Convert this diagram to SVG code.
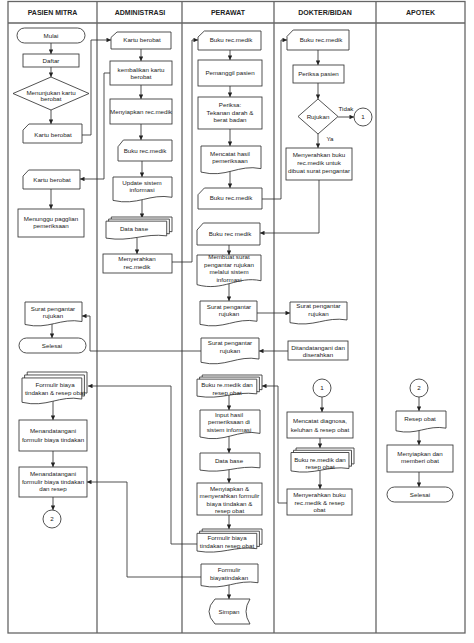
<svg xmlns="http://www.w3.org/2000/svg" width="474" height="643" viewBox="0 0 474 643">
<style>
.lane{fill:none;stroke:#666;stroke-width:1.3}
.n{fill:#fff;stroke:#333;stroke-width:0.85}
.t{font-family:"Liberation Sans",Arial,sans-serif;font-size:6.2px;fill:#222;text-anchor:middle}
.h{font-family:"Liberation Sans",Arial,sans-serif;font-size:7px;font-weight:bold;fill:#222;text-anchor:middle}
.c{fill:none;stroke:#333;stroke-width:0.85;marker-end:url(#ah)}
</style>
<defs>
<marker id="ah" viewBox="0 0 10 10" refX="10" refY="5" markerWidth="5.5" markerHeight="4.5" markerUnits="userSpaceOnUse" orient="auto"><path d="M0,0 L10,5 L0,10 Z" fill="#222"/></marker>
<symbol id="mi" viewBox="0 0 100 100" preserveAspectRatio="none" overflow="visible"><path d="M0,32 L10,0 H100 V100 H0 Z" vector-effect="non-scaling-stroke"/></symbol>
<symbol id="doc" viewBox="0 0 100 100" preserveAspectRatio="none" overflow="visible"><path d="M0,0 H100 V78 C62,62 42,112 0,90 Z" vector-effect="non-scaling-stroke"/></symbol>
<symbol id="md" viewBox="0 0 100 100" preserveAspectRatio="none" overflow="visible"><path d="M8,0 H100 V64 C65,50.8 46.6,91.8 8,73.8 Z" vector-effect="non-scaling-stroke"/><path d="M4,9 H96 V73 C61,59.8 42.6,100.8 4,82.8 Z" vector-effect="non-scaling-stroke"/><path d="M0,18 H92 V82 C57,68.8 38.6,109.8 0,91.8 Z" vector-effect="non-scaling-stroke"/></symbol>
</defs>
<rect width="474" height="643" fill="#fff"/>
<g id="lanes">
<rect class="lane" x="8" y="1.5" width="457" height="631.5"/>
<path class="lane" d="M8,23 H465 M97,1.5 V633 M182,1.5 V633 M274,1.5 V633 M376,1.5 V633"/>
<text class="h" x="52.5" y="14.8">PASIEN MITRA</text>
<text class="h" x="140" y="14.8">ADMINISTRASI</text>
<text class="h" x="228" y="14.8">PERAWAT</text>
<text class="h" x="325" y="14.8">DOKTER/BIDAN</text>
<text class="h" x="420.5" y="14.8">APOTEK</text>
</g>
<g id="connectors">
<path class="c" d="M51,43 V54"/>
<path class="c" d="M51,67 V77"/>
<path class="c" d="M51,110 V124"/>
<path class="c" d="M82,135 H91 V40 H111"/>
<path class="c" d="M141,49 V61"/>
<path class="c" d="M141,85 V99"/>
<path class="c" d="M141,124 V140"/>
<path class="c" d="M110,73 H104 V179 H80"/>
<path class="c" d="M51,189 V209"/>
<path class="c" d="M142,161 V177"/>
<path class="c" d="M142,200 V218"/>
<path class="c" d="M137,237 V254"/>
<path class="c" d="M172,262 H192 V40 H198"/>
<path class="c" d="M230,50 V60"/>
<path class="c" d="M230,86 V97"/>
<path class="c" d="M230,129 V146"/>
<path class="c" d="M230,171 V188"/>
<path class="c" d="M262,199 H281 V40 H287"/>
<path class="c" d="M318,50 V65"/>
<path class="c" d="M318,83 V99"/>
<path class="c" d="M338,117 H354"/>
<path class="c" d="M318,134 V148"/>
<path class="c" d="M319,180 V233 H260"/>
<path class="c" d="M229,245 V255"/>
<path class="c" d="M229,283 V301"/>
<path class="c" d="M257,313 H290"/>
<path class="c" d="M288,351 H259"/>
<path class="c" d="M201,351 H90 V316 H82"/>
<path class="c" d="M52,324 V338"/>
<path class="c" d="M53,401 V420"/>
<path class="c" d="M53,451 V467"/>
<path class="c" d="M53,497 V510"/>
<path class="c" d="M197,544 H171 V386 H88"/>
<path class="c" d="M201,577 H127 V482 H87"/>
<path class="c" d="M287,503 H278 V386 H262"/>
<path class="c" d="M229,395 V410"/>
<path class="c" d="M229,436 V453"/>
<path class="c" d="M229,469.5 V483"/>
<path class="c" d="M229,515 V529"/>
<path class="c" d="M229,585 V599"/>
<path class="c" d="M322,397 V412"/>
<path class="c" d="M320,438 V448"/>
<path class="c" d="M320,470 V489"/>
<path class="c" d="M419,397 V411"/>
<path class="c" d="M419,430 V445"/>
<path class="c" d="M419,472 V487"/>
</g>
<g id="n-mulai"><rect class="n" x="17" y="28" width="68" height="15" rx="7.5"/><text class="t" x="51" y="37.7">Mulai</text></g>
<g id="n-daftar"><rect class="n" x="23" y="54" width="56" height="13"/><text class="t" x="51" y="62.7">Daftar</text></g>
<g id="n-menunjukan"><path class="n" d="M13,93.5 L51,77 L89,93.5 L51,110 Z"/><text class="t"><tspan x="51" y="94.6">Menunjukan kartu</tspan><tspan x="51" y="101.3">berobat</tspan></text></g>
<g id="n-kartu1"><use href="#mi" class="n" x="23" y="124" width="59" height="19"/><text class="t" x="53" y="137.2">Kartu berobat</text></g>
<g id="n-kartu2"><use href="#mi" class="n" x="23" y="170" width="57" height="19"/><text class="t" x="52" y="181.5">Kartu berobat</text></g>
<g id="n-menunggu"><rect class="n" x="18" y="209" width="66" height="28"/><text class="t"><tspan x="51" y="220.5">Menunggu pagglian</tspan><tspan x="51" y="228.2">pemeriksaan</tspan></text></g>
<g id="n-surat-pasien"><use href="#doc" class="n" x="25" y="302" width="57" height="25"/><text class="t"><tspan x="53" y="310.5">Surat pengantar</tspan><tspan x="53" y="318.2">rujukan</tspan></text></g>
<g id="n-selesai1"><rect class="n" x="19" y="338" width="67" height="15" rx="7.5"/><text class="t" x="52" y="348.2">Selesai</text></g>
<g id="n-formulir-pasien"><use href="#md" class="n" x="22" y="372" width="65" height="33"/><text class="t"><tspan x="55" y="387.2">Formulir biaya</tspan><tspan x="55" y="395.2">tindakan &amp; resep obat</tspan></text></g>
<g id="n-tanda1"><rect class="n" x="19" y="420" width="68" height="31"/><text class="t"><tspan x="53" y="433.2">Menandatangani</tspan><tspan x="53" y="441.5">formulir biaya tindakan</tspan></text></g>
<g id="n-tanda2"><rect class="n" x="19" y="467" width="68" height="30"/><text class="t"><tspan x="53" y="476.2">Menandatangani</tspan><tspan x="53" y="483.9">formulir biaya tindakan</tspan><tspan x="53" y="491.4">dan resep</tspan></text></g>
<g id="n-c2a"><circle class="n" cx="52" cy="519" r="9"/><text class="t" x="52" y="521.2">2</text></g>
<g id="n-kartu-adm"><use href="#mi" class="n" x="111" y="32" width="60" height="17"/><text class="t" x="142" y="41.5">Kartu berobat</text></g>
<g id="n-kembalikan"><rect class="n" x="110" y="61" width="62" height="24"/><text class="t"><tspan x="141" y="72.2">kembalikan kartu</tspan><tspan x="141" y="79.2">berobat</tspan></text></g>
<g id="n-menyiapkan-adm"><rect class="n" x="110" y="99" width="62" height="25"/><text class="t" x="141" y="113.9">Menyiapkan rec.medik</text></g>
<g id="n-buku-adm"><use href="#mi" class="n" x="118" y="140" width="54" height="21"/><text class="t" x="145" y="152.9">Buku rec.medik</text></g>
<g id="n-update"><use href="#doc" class="n" x="113" y="177" width="59" height="26"/><text class="t"><tspan x="142" y="184.5">Update sistem</tspan><tspan x="142" y="191.5">informasi</tspan></text></g>
<g id="n-database-adm"><use href="#md" class="n" x="106" y="217" width="66" height="23"/><text class="t" x="134" y="230.5">Data base</text></g>
<g id="n-menyerahkan-adm"><rect class="n" x="103" y="254" width="69" height="19"/><text class="t"><tspan x="137" y="261.2">Menyerahkan</tspan><tspan x="137" y="268.9">rec.medik</tspan></text></g>
<g id="n-buku-p1"><use href="#mi" class="n" x="198" y="31" width="63" height="19"/><text class="t" x="231" y="42.2">Buku rec.medik</text></g>
<g id="n-pemanggil"><rect class="n" x="198" y="60" width="64" height="26"/><text class="t" x="230" y="74.5">Pemanggil pasien</text></g>
<g id="n-periksa-p"><rect class="n" x="198" y="97" width="64" height="32"/><text class="t"><tspan x="230" y="106.5">Periksa:</tspan><tspan x="230" y="114.5">Tekanan darah &amp;</tspan><tspan x="230" y="122.2">berat badan</tspan></text></g>
<g id="n-mencatat-p"><use href="#doc" class="n" x="201" y="146" width="60" height="29"/><text class="t"><tspan x="230" y="155.5">Mencatat hasil</tspan><tspan x="230" y="163.2">pemeriksaan</tspan></text></g>
<g id="n-buku-p2"><use href="#mi" class="n" x="198" y="188" width="64" height="21"/><text class="t" x="231" y="199.9">Buku rec.medik</text></g>
<g id="n-buku-p3"><use href="#mi" class="n" x="197" y="223" width="63" height="22"/><text class="t" x="230" y="235.5">Buku rec medik</text></g>
<g id="n-membuat"><use href="#doc" class="n" x="197" y="255" width="64" height="33"/><text class="t"><tspan x="229" y="259.2">Membuat surat</tspan><tspan x="229" y="266.5">pengantar rujukan</tspan><tspan x="229" y="273.9">melalui sistem</tspan><tspan x="229" y="281.5">informasi</tspan></text></g>
<g id="n-surat-p1"><use href="#doc" class="n" x="200" y="301" width="57" height="26"/><text class="t"><tspan x="229" y="308.9">Surat pengantar</tspan><tspan x="229" y="316.2">rujukan</tspan></text></g>
<g id="n-surat-p2"><use href="#doc" class="n" x="201" y="338" width="58" height="27"/><text class="t"><tspan x="230" y="344.9">Surat pengantar</tspan><tspan x="230" y="353.2">rujukan</tspan></text></g>
<g id="n-buku-rm"><use href="#md" class="n" x="197" y="375" width="65" height="23"/><text class="t"><tspan x="227" y="387.2">Buku re.medik dan</tspan><tspan x="227" y="394.9">resep obat</tspan></text></g>
<g id="n-input"><use href="#doc" class="n" x="200" y="410" width="60" height="30"/><text class="t"><tspan x="229" y="416.5">Input hasil</tspan><tspan x="229" y="424.2">pemeriksaan di</tspan><tspan x="229" y="431.5">sistem informasi</tspan></text></g>
<g id="n-database-p"><use href="#doc" class="n" x="200" y="453" width="60" height="19"/><text class="t" x="229" y="463.2">Data base</text></g>
<g id="n-menyiapkan-p"><rect class="n" x="197" y="483" width="65" height="32"/><text class="t"><tspan x="229.5" y="490.5">Menyiapkan &amp;</tspan><tspan x="229.5" y="498.2">menyerahkan formulir</tspan><tspan x="229.5" y="505.5">biaya tindakan &amp;</tspan><tspan x="229.5" y="513.2">resep obat</tspan></text></g>
<g id="n-formulir-pm"><use href="#md" class="n" x="197" y="529" width="65" height="24"/><text class="t"><tspan x="227" y="539.9">Formulir biaya</tspan><tspan x="227" y="548.2">tindakan resep obat</tspan></text></g>
<g id="n-formulir-bt"><use href="#doc" class="n" x="201" y="564" width="57" height="24"/><text class="t"><tspan x="229" y="572.2">Formulir</tspan><tspan x="229" y="579.9">biayatindakan</tspan></text></g>
<g id="n-simpan"><path class="n" d="M215,599 H250 Q242,611.5 250,624 H215 Q203,611.5 215,599 Z"/><text class="t" x="229" y="613.9">Simpan</text></g>
<g id="n-buku-d"><use href="#mi" class="n" x="287" y="30" width="62" height="20"/><text class="t" x="321" y="42.2">Buku rec.medik</text></g>
<g id="n-periksa-d"><rect class="n" x="293" y="65" width="51" height="18"/><text class="t" x="318.5" y="76.2">Periksa pasien</text></g>
<g id="n-rujukan"><path class="n" d="M298,116.5 L318,99 L338,116.5 L318,134 Z"/><text class="t" x="318" y="118.9">Rujukan</text></g>
<g id="n-c1a"><circle class="n" cx="363" cy="117" r="9"/><text class="t" x="363" y="119.2">1</text></g>
<g id="n-menyerahkan-d"><rect class="n" x="286" y="148" width="66" height="32"/><text class="t"><tspan x="319" y="157.2">Menyerahkan buku</tspan><tspan x="319" y="164.9">rec.medik untuk</tspan><tspan x="319" y="172.6">dibuat surat pengantar</tspan></text></g>
<g id="n-surat-d"><use href="#doc" class="n" x="290" y="302" width="57" height="23"/><text class="t"><tspan x="318.5" y="308.2">Surat pengantar</tspan><tspan x="318.5" y="315.9">rujukan</tspan></text></g>
<g id="n-ditandatangani"><rect class="n" x="288" y="341" width="60" height="19"/><text class="t"><tspan x="318" y="349.6">Ditandatangani dan</tspan><tspan x="318" y="357.3">diserahkan</tspan></text></g>
<g id="n-c1b"><circle class="n" cx="322" cy="388" r="9"/><text class="t" x="322" y="390.2">1</text></g>
<g id="n-mencatat-d"><rect class="n" x="287" y="412" width="66" height="26"/><text class="t"><tspan x="320" y="423.2">Mencatat diagnosa,</tspan><tspan x="320" y="431.5">keluhan &amp; resep obat</tspan></text></g>
<g id="n-buku-d2"><use href="#md" class="n" x="291" y="448" width="63" height="25"/><text class="t"><tspan x="320" y="461.5">Buku re.medik dan</tspan><tspan x="320" y="468.9">resep obat</tspan></text></g>
<g id="n-menyerahkan-d2"><rect class="n" x="287" y="489" width="65" height="26"/><text class="t"><tspan x="319.5" y="497.2">Menyerahkan buku</tspan><tspan x="319.5" y="504.5">rec.medik &amp; resep</tspan><tspan x="319.5" y="512">obat</tspan></text></g>
<g id="n-c2b"><circle class="n" cx="419" cy="388" r="9"/><text class="t" x="419" y="390.2">2</text></g>
<g id="n-resep"><use href="#doc" class="n" x="396" y="411" width="50" height="22"/><text class="t" x="420" y="420.5">Resep obat</text></g>
<g id="n-menyiapkan-ap"><rect class="n" x="387" y="445" width="66" height="27"/><text class="t"><tspan x="420" y="455.5">Menyiapkan dan</tspan><tspan x="420" y="462.9">memberi obat</tspan></text></g>
<g id="n-selesai2"><rect class="n" x="387" y="487" width="66" height="15" rx="7.5"/><text class="t" x="420" y="496.5">Selesai</text></g>
<g id="labels"><text class="t" x="346" y="110.5">Tidak</text><text class="t" x="330" y="140.5">Ya</text></g>
</svg>
